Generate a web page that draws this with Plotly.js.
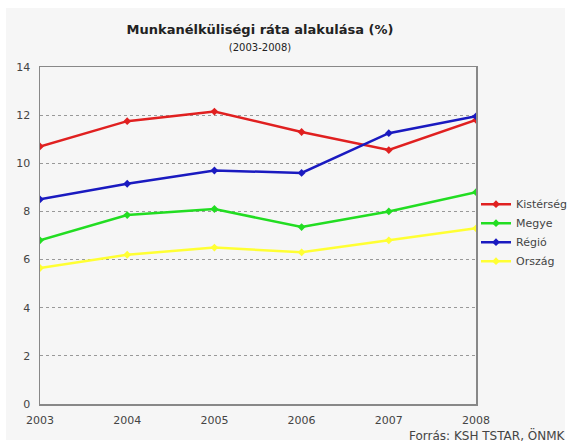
<!DOCTYPE html>
<html>
<head>
<meta charset="utf-8">
<script src="https://cdn.plot.ly/plotly-3.0.1.min.js"></script>
<style>html,body{margin:0;padding:0;background:#fff;}#chart{width:569px;height:446px;}</style>
</head>
<body>
<div id="chart"></div>
<script>
const years = [2003, 2004, 2005, 2006, 2007, 2008];
const seriesNames = ["Kistérség", "Megye", "Régió", "Ország"];
const kisterseg = [10.7, 11.75, 12.15, 11.3, 10.55, 11.8];
const megye = [6.8, 7.85, 8.1, 7.35, 8.0, 8.8];
const regio = [8.5, 9.15, 9.7, 9.6, 11.25, 11.95];
const orszag = [5.65, 6.2, 6.5, 6.3, 6.8, 7.3];
const colors = ["#e02020", "#22dd22", "#1a1ac0", "#ffff33"];
const values = [kisterseg, megye, regio, orszag];

const traces = values.map((v, i) => ({
  x: years, y: v, name: seriesNames[i], type: 'scatter', mode: 'lines+markers',
  line: {color: colors[i], width: 2.5},
  marker: {color: colors[i], size: 6, symbol: 'diamond'}
}));

const FONT = 'DejaVu Sans, Verdana, sans-serif';
const layout = {
  width: 569, height: 446,
  paper_bgcolor: '#ffffff', plot_bgcolor: '#f6f6f6',
  margin: {l: 40, r: 93, t: 67, b: 42, autoexpand: false},
  font: {family: FONT, size: 11, color: '#444'},
  title: {text: '<b>Munkanélküliségi ráta alakulása (%)</b><br><span style="font-size:10px;font-weight:normal">(2003-2008)</span>',
          x: 260/569, xanchor: 'center', y: 1 - 34/446, yanchor: 'middle',
          font: {family: FONT, size: 13, color: '#222'}},
  xaxis: {range: [2003, 2008], tickvals: years, ticktext: years.map(String), showgrid: false,
          zeroline: false, showline: true, linecolor: '#888', linewidth: 1.5, mirror: true,
          ticks: '', ticklabelstandoff: 5, tickfont: {size: 11, color: '#444'}},
  yaxis: {range: [0, 14], dtick: 2, showgrid: true, gridcolor: '#999', griddash: 'dot', gridwidth: 1,
          zeroline: false, showline: true, linecolor: '#888', linewidth: 1.5, mirror: true,
          ticks: '', ticklabelstandoff: 6, tickfont: {size: 11, color: '#444'}},
  legend: {x: 1.0, y: 0.636, xanchor: 'left', yanchor: 'top', bgcolor: 'rgba(0,0,0,0)',
           font: {size: 11, color: '#444'}, tracegroupgap: 0, itemwidth: 30},
  showlegend: true,
  shapes: [{type: 'rect', xref: 'paper', yref: 'paper', x0: -0.078, x1: 1.204, y0: -0.107, y1: 1.175,
            fillcolor: '#f6f6f6', line: {width: 0}, layer: 'below'}],
  annotations: [{text: 'Forrás: KSH TSTAR, ÖNMK', xref: 'paper', yref: 'paper', x: 1.212, y: -0.062,
                 xanchor: 'right', yanchor: 'top', showarrow: false, font: {size: 12, color: '#444'}}]
};
Plotly.newPlot('chart', traces, layout, {displayModeBar: false, staticPlot: true});
</script>
</body>
</html>
